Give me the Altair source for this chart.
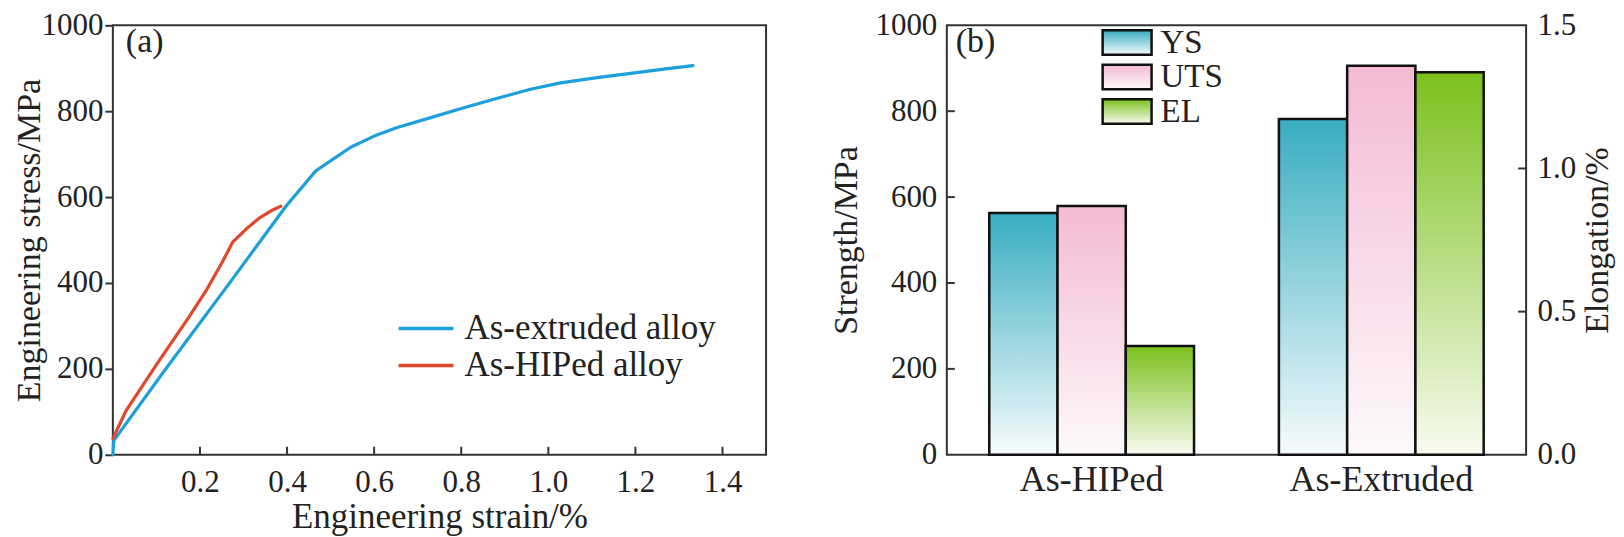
import altair as alt
import pandas as pd

# ---------------- data ----------------
ext_strain = [0.0, 0.002, 0.120, 0.2665, 0.397, 0.466, 0.546, 0.600, 0.653, 0.730,
              0.806, 0.883, 0.959, 1.028, 1.112, 1.189, 1.265, 1.332]
ext_stress = [0, 33, 198, 398, 578, 661, 716, 742, 762, 785,
              808, 830, 851, 866, 878, 888, 898, 906]
hip_strain = [0.0, 0.030, 0.099, 0.175, 0.214, 0.252, 0.275, 0.3055, 0.336, 0.367, 0.386]
hip_stress = [38, 102, 208, 321, 382, 450, 495, 525, 551, 570, 579]
series_names = ["As-extruded alloy", "As-HIPed alloy"]
strain_ticks = [0.2, 0.4, 0.6, 0.8, 1.0, 1.2, 1.4]
stress_ticks = [0, 200, 400, 600, 800, 1000]

groups = ["As-HIPed", "As-Extruded"]
metrics = ["YS", "UTS", "EL"]
ys_vals = [563, 782]
uts_vals = [579, 906]
el_vals = [0.38, 1.336]
strength_ticks = [0, 200, 400, 600, 800, 1000]
strength_inner_ticks = [200, 400, 600, 800]
el_ticks = [0.0, 0.5, 1.0, 1.5]
el_inner_ticks = [0.5, 1.0]

# ---------------- style ----------------
FONT = "Liberation Serif"
BLUE = "#1c9fdb"
RED = "#e0482b"
AX = "#333333"
TXT = "#222222"
W_A, W_B, H = 654, 580, 430
LAB = 31
TIT = 34


def grad(top, bottom):
    return {"gradient": "linear", "x1": 0, "y1": 0, "x2": 0, "y2": 1,
            "stops": [{"offset": 0, "color": top}, {"offset": 1, "color": bottom}]}


G_YS = grad("#38adc1", "#f6fbfd")
G_UTS = grad("#f4bad4", "#fdf9fb")
G_EL = grad("#7bc01c", "#f8fbf0")

one = pd.DataFrame({"k": [0]})

# ---------------- panel (a) ----------------
rows = []
for i, (s, v) in enumerate(zip(ext_strain, ext_stress)):
    rows.append({"strain": s, "stress": v, "series": series_names[0], "i": i})
for i, (s, v) in enumerate(zip(hip_strain, hip_stress)):
    rows.append({"strain": s, "stress": v, "series": series_names[1], "i": i})
curve_df = pd.DataFrame(rows)

xs = alt.Scale(domain=[0, 1.5], nice=False, zero=False)
ysa = alt.Scale(domain=[0, 1000], nice=False)

xaxis_a = alt.Axis(title="Engineering strain/%", values=strain_ticks, format=".1f",
                   ticks=False, domain=False, grid=False, labelPadding=13,
                   labelFontSize=LAB, titleFontSize=35, titlePadding=2)

lines = alt.Chart(curve_df).mark_line(strokeWidth=3.2, strokeCap="round", strokeJoin="round").encode(
    x=alt.X("strain:Q", scale=xs, axis=xaxis_a),
    y=alt.Y("stress:Q", scale=ysa,
            axis=alt.Axis(title="Engineering stress/MPa", values=stress_ticks, format="d",
                          tickSize=8, tickWidth=2, tickColor=AX, domain=False, grid=False,
                          labelPadding=2, labelFontSize=LAB, titleFontSize=TIT, titlePadding=-6)),
    color=alt.Color("series:N", scale=alt.Scale(domain=series_names, range=[BLUE, RED]), legend=None),
    order=alt.Order("i:Q"),
)

xtick_df = pd.DataFrame({"strain": strain_ticks})
xticks_a = alt.Chart(xtick_df).mark_rule(color=AX, strokeWidth=2).encode(
    x=alt.X("strain:Q", scale=xs, axis=xaxis_a),
    y=alt.value(H), y2=alt.value(H - 8),
)

leg_a = []
for j, (name, col) in enumerate(zip(series_names, [BLUE, RED])):
    yy = 303.5 + 37 * j
    leg_a.append(alt.Chart(one).mark_rule(color=col, strokeWidth=3.5).encode(
        x=alt.value(286), x2=alt.value(341), y=alt.value(yy)))
    leg_a.append(alt.Chart(one).mark_text(text=name, font=FONT, fontSize=35, color=TXT,
                                          align="left", baseline="middle").encode(
        x=alt.value(352), y=alt.value(yy)))

label_a = alt.Chart(one).mark_text(text="(a)", font=FONT, fontSize=TIT, color=TXT,
                                   align="left", baseline="middle").encode(
    x=alt.value(13), y=alt.value(17))

panel_a = alt.layer(lines, xticks_a, label_a, *leg_a).properties(width=W_A, height=H)

# ---------------- panel (b) ----------------
bar_df = pd.DataFrame({"group": groups * 2, "metric": ["YS"] * 2 + ["UTS"] * 2,
                       "value": ys_vals + uts_vals})
el_df = pd.DataFrame({"group": groups, "metric": ["EL"] * 2, "value": el_vals})

xband = alt.Scale(domain=groups, paddingInner=0.293, paddingOuter=0.1465)
xoff = alt.Scale(domain=metrics)
ys_s = alt.Scale(domain=[0, 1000], nice=False)
ys_e = alt.Scale(domain=[0, 1.5], nice=False)

xaxis_b = alt.Axis(title=None, labelAngle=0, ticks=False, tickSize=0, domain=False,
                   labelFontSize=36, labelPadding=8, labelLimit=400)

strength = alt.Chart(bar_df).mark_bar(stroke="#111111", strokeWidth=2.5).encode(
    x=alt.X("group:N", scale=xband, sort=groups, axis=xaxis_b),
    xOffset=alt.XOffset("metric:N", scale=xoff, sort=metrics),
    y=alt.Y("value:Q", scale=ys_s,
            axis=alt.Axis(title="Strength/MPa", values=strength_ticks, format="d", ticks=False,
                          domain=False, grid=False, labelPadding=10, labelFontSize=LAB,
                          titleFontSize=TIT, titlePadding=11)),
    fill=alt.condition("datum.metric === 'YS'", alt.value(G_YS), alt.value(G_UTS)),
)

elong = alt.Chart(el_df).mark_bar(stroke="#111111", strokeWidth=2.5, fill=G_EL).encode(
    x=alt.X("group:N", scale=xband, sort=groups, axis=xaxis_b),
    xOffset=alt.XOffset("metric:N", scale=xoff, sort=metrics),
    y=alt.Y("value:Q", scale=ys_e,
            axis=alt.Axis(title="Elongation/%", orient="right", values=el_ticks, format=".1f",
                          ticks=False, domain=False, grid=False, labelPadding=11,
                          labelFontSize=LAB, titleFontSize=TIT, titlePadding=5,
                          titleAngle=270, titleBaseline="top")),
)

lt_df = pd.DataFrame({"v": strength_inner_ticks})
left_ticks = alt.Chart(lt_df).mark_rule(color=AX, strokeWidth=2).encode(
    y=alt.Y("v:Q", scale=ys_s, axis=None), x=alt.value(0), x2=alt.value(8))
rt_df = pd.DataFrame({"v": el_inner_ticks})
right_ticks = alt.Chart(rt_df).mark_rule(color=AX, strokeWidth=2).encode(
    y=alt.Y("v:Q", scale=ys_e, axis=None), x=alt.value(W_B - 8), x2=alt.value(W_B))

leg_b = []
for j, (m, g) in enumerate(zip(metrics, [G_YS, G_UTS, G_EL])):
    top = 5 + 34.5 * j
    leg_b.append(alt.Chart(one).mark_rect(fill=g, stroke="#111111", strokeWidth=2.5).encode(
        x=alt.value(156), x2=alt.value(205), y=alt.value(top), y2=alt.value(top + 24.5)))
    leg_b.append(alt.Chart(one).mark_text(text=m, font=FONT, fontSize=33, color=TXT,
                                          align="left", baseline="middle").encode(
        x=alt.value(214), y=alt.value(top + 12.5)))

label_b = alt.Chart(one).mark_text(text="(b)", font=FONT, fontSize=TIT, color=TXT,
                                   align="left", baseline="middle").encode(
    x=alt.value(9), y=alt.value(17))

panel_b = alt.layer(strength, elong, left_ticks, right_ticks, label_b, *leg_b).resolve_scale(
    y="independent").properties(width=W_B, height=H)

chart = alt.hconcat(panel_a, panel_b, spacing=62).properties(
    padding={"left": 4, "top": 0, "right": 0, "bottom": 0}
).configure_view(stroke=AX, strokeWidth=2).configure_axis(
    labelFont=FONT, titleFont=FONT, labelColor=TXT, titleColor=TXT, titleFontWeight="normal"
)

chart.save("out.html", embed_options={"renderer": "svg", "actions": False})
